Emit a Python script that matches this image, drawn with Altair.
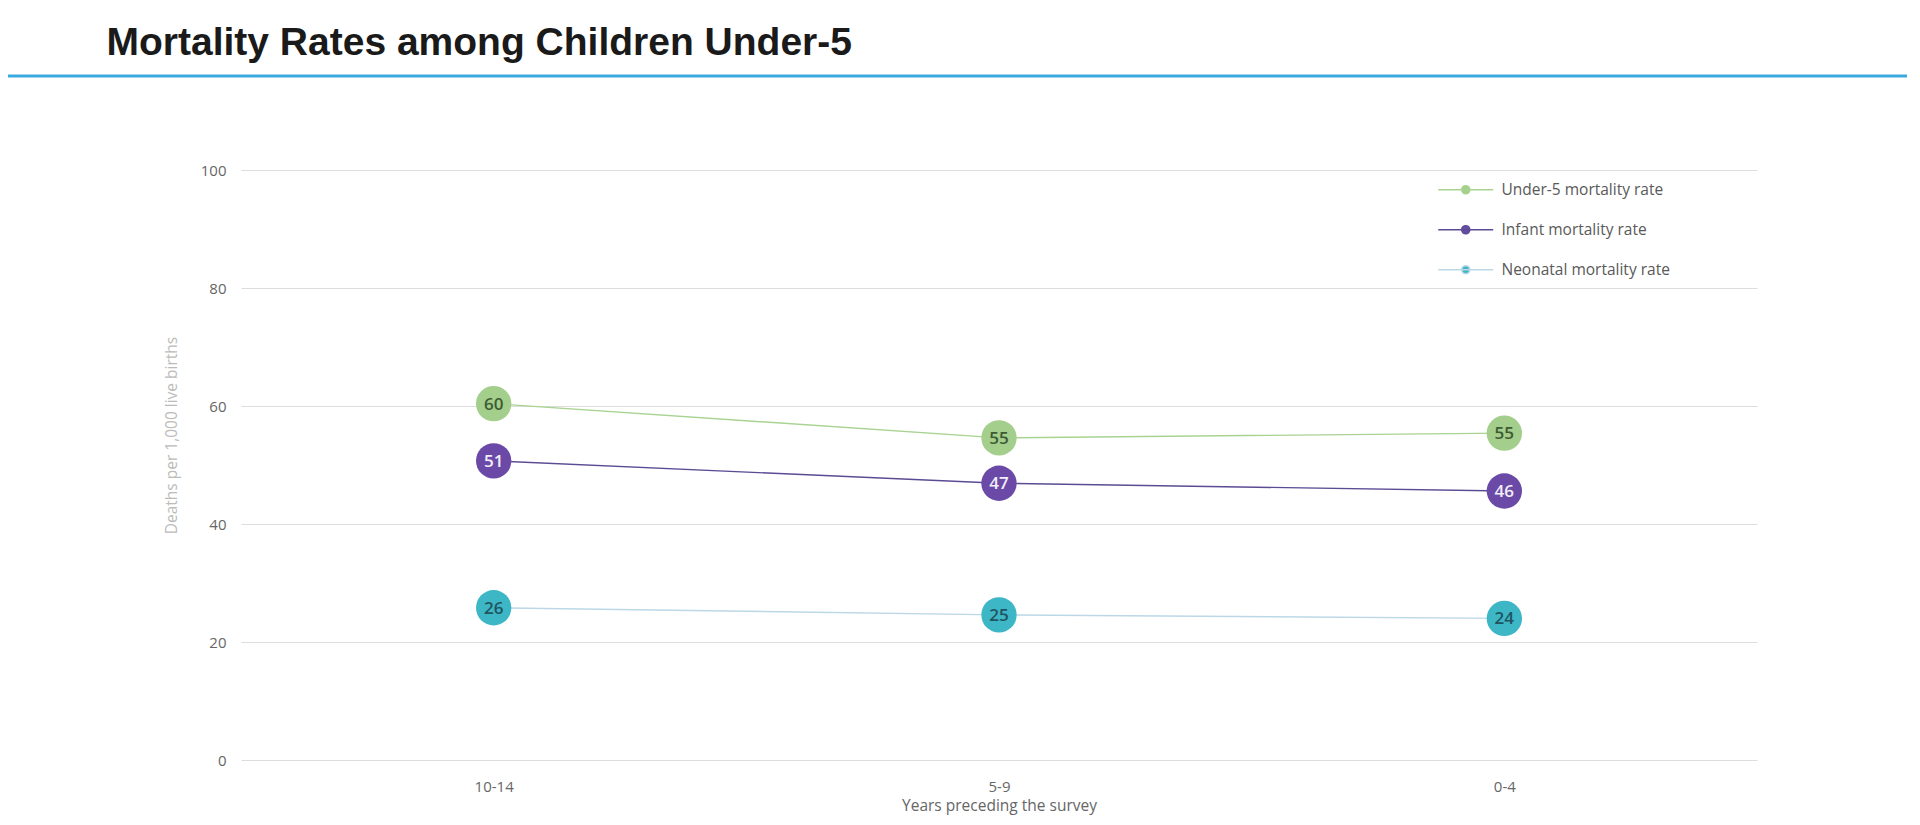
import altair as alt
import pandas as pd

periods = ["10-14", "5-9", "0-4"]
series_names = ["Under-5 mortality rate", "Infant mortality rate", "Neonatal mortality rate"]
under5 = [60.4, 54.6, 55.4]
infant = [50.7, 46.9, 45.6]
neonatal = [25.8, 24.6, 24.0]

circle_colors = ["#A3CE8B", "#6A4AA6", "#3DB6C6"]
line_colors = ["#A8D391", "#5B4B94", "#BCD7E6"]
text_colors = ["#3E5B33", "#F2EEFA", "#1F5460"]

rows = []
for name, vals in zip(series_names, [under5, infant, neonatal]):
    for p, v in zip(periods, vals):
        rows.append({"period": p, "series": name, "value": v})
df = pd.DataFrame(rows)

W, H = 1516, 590

base = alt.Chart(df).encode(
    x=alt.X(
        "period:N",
        sort=periods,
        scale=alt.Scale(type="point", padding=0.5),
        axis=alt.Axis(
            title="Years preceding the survey",
            labelAngle=0,
            grid=False,
            domain=False,
            labelPadding=19,
            titleY=45,
            titleBaseline="middle",
        ),
    ),
    y=alt.Y(
        "value:Q",
        scale=alt.Scale(domain=[0, 100]),
        axis=alt.Axis(
            values=[0, 20, 40, 60, 80, 100],
            title="Deaths per 1,000 live births",
            domain=False,
            labelPadding=15,
            titleX=-70,
            titleY=265,
            titleBaseline="middle",
            titleColor="#BBBBBB",
            titleFontSize=15.5,
        ),
    ),
)

legend_path = "M-5.5,0H5.5M-0.8,0A0.8,0.8,0,1,0,0.8,0A0.8,0.8,0,1,0,-0.8,0Z"

lines = base.mark_line(strokeWidth=1.4).encode(
    stroke=alt.Stroke(
        "series:N",
        scale=alt.Scale(domain=series_names, range=line_colors),
        legend=alt.Legend(title=None),
    )
)
dots = base.mark_circle(size=1250, opacity=1).encode(
    fill=alt.Fill(
        "series:N",
        scale=alt.Scale(domain=series_names, range=circle_colors),
        legend=alt.Legend(title=None),
    )
)
labels = base.mark_text(font="Open Sans", fontSize=17, fontWeight=600, dy=1).encode(
    text=alt.Text("value:Q", format=".0f"),
    color=alt.Color(
        "series:N",
        scale=alt.Scale(domain=series_names, range=text_colors),
        legend=None,
    ),
)

rule = alt.Chart(pd.DataFrame({"k": [0]})).mark_rule(
    color="#3AA9E0", strokeWidth=3
).encode(x=alt.value(-233), x2=alt.value(W + 150), y=alt.value(-94))

chart = (
    alt.layer(rule, lines, dots, labels)
    .properties(
        width=W,
        height=H,
        view=alt.ViewBackground(strokeOpacity=0, strokeWidth=0),
        autosize=alt.AutoSizeParams(type="none"),
        padding={"left": 233, "top": 162, "right": 150, "bottom": 55},
        title=alt.TitleParams(
            text="Mortality Rates among Children Under-5",
            anchor="start",
            dx=100,
            offset=12,
            font="Liberation Sans",
            fontSize=39,
            fontWeight="bold",
            color="#1A1A1A",
        ),
    )
    .configure_view(strokeOpacity=0, strokeWidth=0)
    .configure(background="white")
    .configure_axis(
        domain=False,
        ticks=False,
        gridColor="#DDDDDD",
        gridWidth=1,
        labelFont="Open Sans",
        labelFontSize=15,
        labelColor="#666666",
        titleFont="Open Sans",
        titleFontSize=15.5,
        titleColor="#666666",
        titleFontWeight="normal",
    )
    .configure_legend(
        orient="none",
        legendX=1217,
        legendY=12,
        padding=0,
        symbolType=legend_path,
        symbolSize=100,
        symbolStrokeWidth=1.6,
        labelOffset=28,
        labelLimit=400,
        labelFont="Open Sans",
        labelFontSize=15.5,
        labelColor="#595959",
        rowPadding=23,
    )
)

chart.save("out.html", embed_options={"renderer": "svg", "actions": False})
